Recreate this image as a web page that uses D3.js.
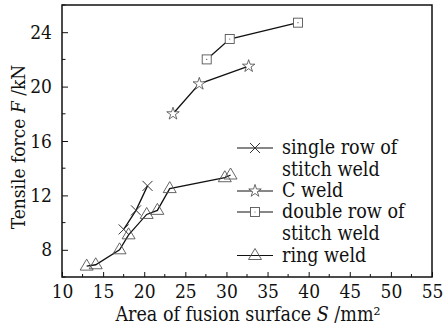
<!DOCTYPE html>
<html><head><meta charset="utf-8">
<script src="https://cdn.jsdelivr.net/npm/d3@7"></script>
<style>
body{margin:0;background:#fff;}
text{font-family:"DejaVu Serif",serif;font-stretch:condensed;fill:#111;}
</style></head>
<body><svg id="c" width="446" height="325"></svg>
<script>
const xTicks=[10,15,20,25,30,35,40,45,50,55];
const yTicks=[8,12,16,20,24];
const seriesNames=["single row of|stitch weld","C weld","double row of|stitch weld","ring weld"];
const singleX=[17.5,19.0,20.4], singleY=[9.5,10.9,12.7];
const cX=[23.5,26.7,32.7], cY=[18.0,20.2,21.5];
const doubleX=[27.6,30.4,38.7], doubleY=[22.0,23.5,24.7];
const ringX=[13.0,14.1,17.0,18.1,20.3,21.6,23.1,29.8,30.5];
const ringY=[6.8,6.9,8.0,9.1,10.6,10.9,12.5,13.3,13.5];

const svg=d3.select("#c");
const L=62,R=432,T=5,B=277;
const x=d3.scaleLinear().domain([10,55]).range([L,R]);
const y=d3.scaleLinear().domain([6,26]).range([B,T]);
const g=svg.append("g");

// minor ticks
const xMinor=d3.range(12.5,55,5), yMinor=d3.range(6,26.01,2).filter(v=>!yTicks.includes(v));
g.selectAll(".xm").data(xMinor).join("line").attr("x1",d=>x(d)).attr("x2",d=>x(d)).attr("y1",B).attr("y2",B-3).attr("stroke","#111");
g.selectAll(".ym").data(yMinor).join("line").attr("y1",d=>y(d)).attr("y2",d=>y(d)).attr("x1",L).attr("x2",L+3.5).attr("stroke","#111");

const xa=g.append("g").attr("transform",`translate(0,${B})`).call(d3.axisBottom(x).tickValues(xTicks).tickSizeInner(-5).tickSizeOuter(0).tickPadding(8));
const ya=g.append("g").attr("transform",`translate(${L},0)`).call(d3.axisLeft(y).tickValues(yTicks).tickSizeInner(-6).tickSizeOuter(0).tickPadding(10));
[xa,ya].forEach(a=>{a.select(".domain").remove();a.selectAll("line").attr("stroke","#111");a.selectAll("text").attr("font-size",19).attr("font-family","DejaVu Serif").style("font-stretch","condensed").attr("fill","#111");});
g.append("rect").attr("x",L).attr("y",T).attr("width",R-L).attr("height",B-T).attr("fill","none").attr("stroke","#111").attr("stroke-width",1.5);

// markers
const mk={
 x:(s,c)=>s.append("path").attr("d",`M${c[0]-5},${c[1]-5}L${c[0]+5},${c[1]+5}M${c[0]-5},${c[1]+5}L${c[0]+5},${c[1]-5}`).attr("stroke","#333").attr("stroke-width",1).attr("fill","none"),
 star:(s,c)=>s.append("path").attr("d",d3.symbol(d3.symbolStar,48)()).attr("transform",`translate(${c[0]},${c[1]})`).attr("fill","#fff").attr("stroke","#444").attr("stroke-width",0.8),
 sq:(s,c)=>{s.append("rect").attr("x",c[0]-4.5).attr("y",c[1]-4.5).attr("width",9).attr("height",9).attr("fill","#fff").attr("stroke","#555").attr("stroke-width",0.9);s.append("circle").attr("cx",c[0]).attr("cy",c[1]).attr("r",0.6).attr("fill","#555");},
 tri:(s,c)=>s.append("path").attr("d",`M${c[0]},${c[1]-7}L${c[0]+6.5},${c[1]+4}L${c[0]-6.5},${c[1]+4}Z`).attr("fill","none").attr("stroke","#555").attr("stroke-width",0.9)
};
const series=[[singleX,singleY,"x"],[cX,cY,"star"],[doubleX,doubleY,"sq"],[ringX,ringY,"tri"]];
const line=d3.line().x(d=>x(d[0])).y(d=>y(d[1]));
series.forEach(([xs,ys,m])=>{
  const pts=xs.map((v,i)=>[v,ys[i]]);
  g.append("path").attr("d",line(pts)).attr("fill","none").attr("stroke","#111").attr("stroke-width",1.3);
});
series.forEach(([xs,ys,m])=>{
  xs.forEach((v,i)=>mk[m](g,[x(v),y(ys[i])]));
});

// legend
const legRows=[[154,"x",[seriesNames[0].split("|")[0]]],[176,null,[seriesNames[0].split("|")[1]]],[197,"star",[seriesNames[1]]],[218,"sq",[seriesNames[2].split("|")[0]]],[239.5,null,[seriesNames[2].split("|")[1]]],[261.5,"tri",[seriesNames[3]]]];
legRows.forEach(([by,m,t])=>{
  const cy=by-6;
  if(m){g.append("line").attr("x1",237).attr("x2",273).attr("y1",cy).attr("y2",cy).attr("stroke","#111").attr("stroke-width",1.2);
    if(m==="x") mk.x(g,[255,cy]); else if(m==="star") mk.star(g,[255,cy]); else if(m==="sq") mk.sq(g,[255,cy]); else mk.tri(g,[255,cy]);}
  g.append("text").attr("x",282).attr("y",by).attr("font-size",19.5).text(t[0]);
});

// axis titles
const xt=g.append("text").attr("x",(L+R)/2+1).attr("y",320.5).attr("text-anchor","middle").attr("font-size",19.5);
xt.append("tspan").text("Area of fusion surface ");
xt.append("tspan").attr("font-style","italic").text("S");
xt.append("tspan").text(" /mm²");
const yt=g.append("text").attr("transform",`translate(25,147) rotate(-90)`).attr("text-anchor","middle").attr("font-size",19);
yt.append("tspan").text("Tensile force ");
yt.append("tspan").attr("font-style","italic").text("F");
yt.append("tspan").text(" /kN");
</script></body></html>
